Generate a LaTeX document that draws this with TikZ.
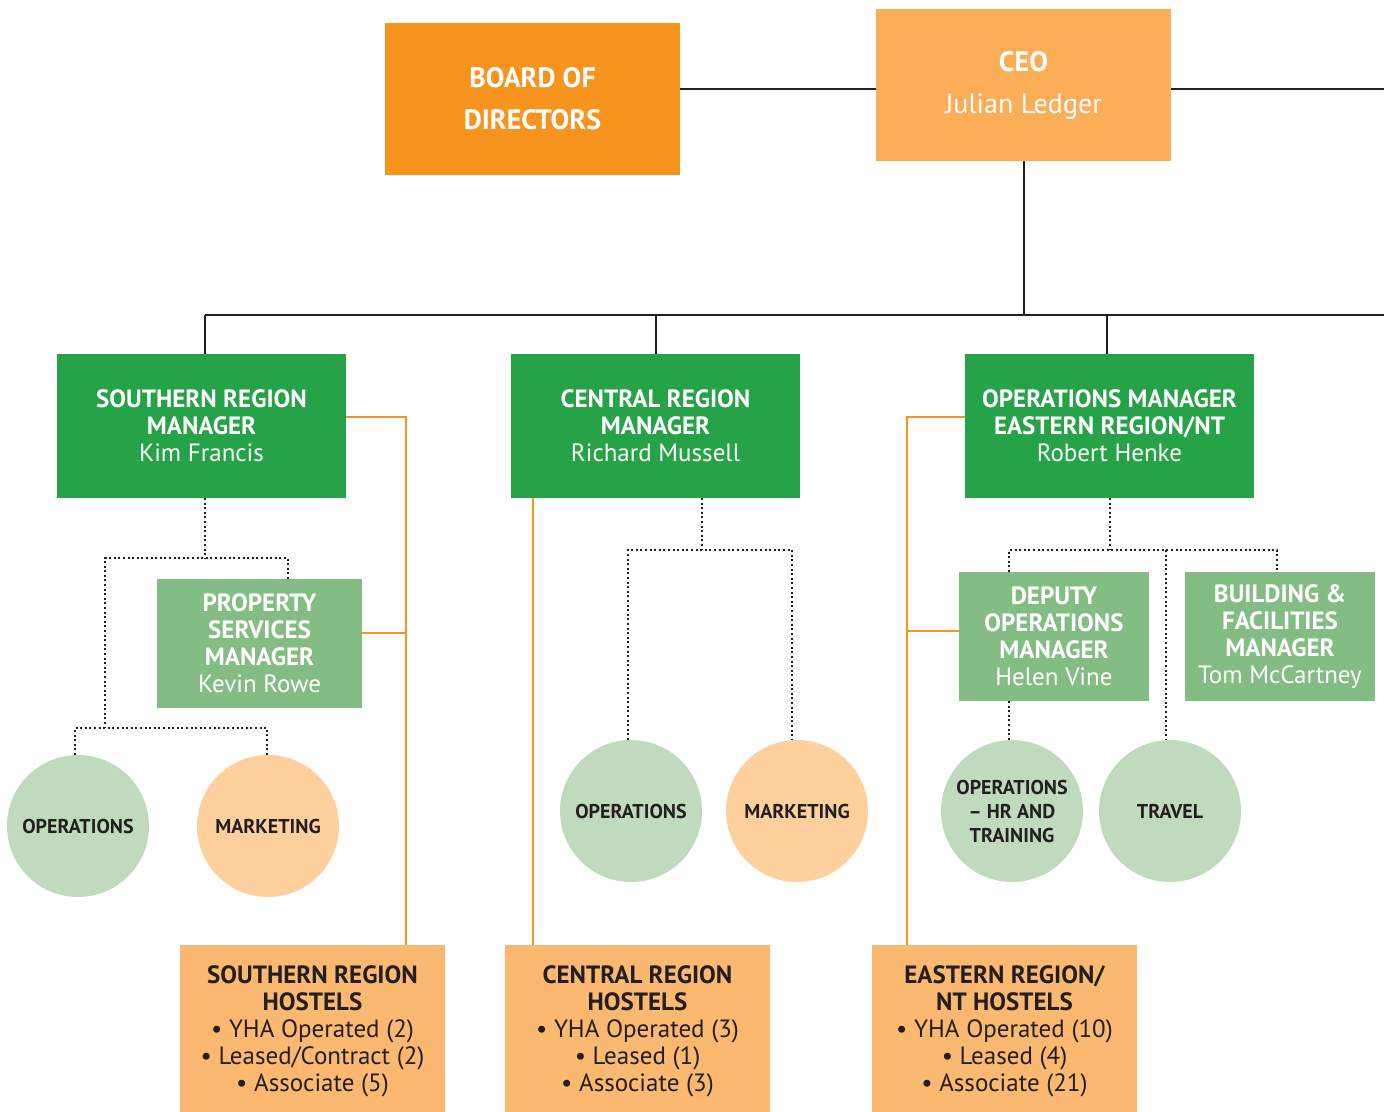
\documentclass[tikz,border=0pt]{standalone}
\usepackage{fontspec}
\setmainfont{PT Sans}
\definecolor{boardC}{HTML}{F7941E}
\definecolor{ceoC}{HTML}{FBAD57}
\definecolor{dgreen}{HTML}{26A348}
\definecolor{lgreen}{HTML}{84BD84}
\definecolor{cgreen}{HTML}{C0DABE}
\definecolor{corange}{HTML}{FDD09E}
\definecolor{hostC}{HTML}{FBB870}
\definecolor{orgL}{HTML}{F7941E}
\definecolor{blk}{HTML}{231F20}
\newcommand\fTop{\fontsize{28}{42}\selectfont}
\newcommand\fBox{\fontsize{25}{27}\selectfont}
\newcommand\fCirc{\fontsize{20}{24}\selectfont}
\begin{document}
\begin{tikzpicture}[x=1pt,y=-1pt,
  base/.style={inner sep=0pt, outer sep=0pt, align=center},
  topbox/.style={base, minimum width=295, minimum height=152, text=white, font=\fTop},
  mgrbox/.style={base, fill=dgreen, minimum width=289, minimum height=144, text=white, font=\fBox},
  subbox/.style={base, fill=lgreen, minimum height=129, text=white, font=\fBox},
  circ/.style={base, circle, minimum size=142, text=blk, font=\fCirc\bfseries},
  hostbox/.style={base, fill=hostC, minimum width=265, minimum height=172, text=blk, font=\fBox},
  solidln/.style={draw=blk, line width=2pt},
  orgln/.style={draw=orgL, line width=2pt},
  dotln/.style={draw=blk, line width=2pt, dash pattern=on 2pt off 2.6pt}
]
\useasboundingbox (0,0) rectangle (1384,1111);

% top
\node[topbox, fill=boardC] (board) at (532.5,99) {\bfseries BOARD OF\\\bfseries DIRECTORS};
\node[topbox, fill=ceoC] (ceo) at (1023.5,85) {\bfseries CEO\\Julian Ledger};

% managers
\node[mgrbox] (south) at (201.5,426) {\bfseries SOUTHERN REGION\\\bfseries MANAGER\\Kim Francis};
\node[mgrbox] (central) at (655.5,426) {\bfseries CENTRAL REGION\\\bfseries MANAGER\\Richard Mussell};
\node[mgrbox] (east) at (1109.5,426) {\bfseries OPERATIONS MANAGER\\\bfseries EASTERN REGION/NT\\Robert Henke};

% sub managers
\node[subbox, minimum width=205] (psm) at (259.5,643.5) {\bfseries PROPERTY\\\bfseries SERVICES\\\bfseries MANAGER\\Kevin Rowe};
\node[subbox, minimum width=190] (dep) at (1054,636.5) {\bfseries DEPUTY\\\bfseries OPERATIONS\\\bfseries MANAGER\\Helen Vine};
\node[subbox, minimum width=190] (bld) at (1280,636.5) {\bfseries BUILDING \&\\\bfseries FACILITIES\\\bfseries MANAGER\\Tom McCartney};

% circles
\node[circ, fill=cgreen] (cS1) at (78,826) {OPERATIONS};
\node[circ, fill=corange] (cS2) at (268,826) {MARKETING};
\node[circ, fill=cgreen] (cC1) at (631,811) {OPERATIONS};
\node[circ, fill=corange] (cC2) at (797,811) {MARKETING};
\node[circ, fill=cgreen] (cE1) at (1012,811) {OPERATIONS\\– HR AND\\TRAINING};
\node[circ, fill=cgreen] (cE2) at (1170,811) {TRAVEL};

% hostels
\node[hostbox] (shost) at (312.5,1031) {\bfseries SOUTHERN REGION\\\bfseries HOSTELS\\• YHA Operated (2)\\• Leased/Contract (2)\\• Associate (5)};
\node[hostbox] (chost) at (637.5,1031) {\bfseries CENTRAL REGION\\\bfseries HOSTELS\\• YHA Operated (3)\\• Leased (1)\\• Associate (3)};
\node[hostbox] (ehost) at (1004.5,1031) {\bfseries EASTERN REGION/\\\bfseries NT HOSTELS\\• YHA Operated (10)\\• Leased (4)\\• Associate (21)};

% solid black lines
\coordinate (topY) at (0,89);
\coordinate (redge) at (1384,89);
\coordinate (bus) at (0,315);
\coordinate (busR) at (1384,315);
\coordinate (sX) at (205,0);
\coordinate (eX) at (1107,0);
\draw[solidln] (board.east |- topY) -- (ceo.west |- topY);
\draw[solidln] (ceo.east |- topY) -- (redge);
\draw[solidln] (ceo.south) -- (ceo.south |- bus);
\draw[solidln] (sX |- bus) -- (busR);
\draw[solidln] (sX |- bus) -- (sX |- south.north);
\draw[solidln] (central.north |- bus) -- (central.north);
\draw[solidln] (eX |- bus) -- (eX |- east.north);

% orange lines
\coordinate (sv) at (406,417);
\coordinate (psmY) at (0,633);
\draw[orgln] (south.east |- sv) -- (sv) -- (sv |- shost.north);
\draw[orgln] (psm.east |- psmY) -- (sv |- psmY);
\coordinate (cv) at (533,0);
\draw[orgln] (cv |- central.south) -- (cv |- chost.north);
\coordinate (ev) at (907,417);
\coordinate (depY) at (0,631);
\draw[orgln] (east.west |- ev) -- (ev) -- (ev |- ehost.north);
\draw[orgln] (dep.west |- depY) -- (ev |- depY);

% dotted lines - southern
\coordinate (sA) at (105,558);
\coordinate (sB) at (288,558);
\coordinate (sC) at (105,728);
\coordinate (s1x) at (75,0);
\coordinate (s2x) at (267,0);
\draw[dotln] (sX |- south.south) -- (sX |- sA);
\draw[dotln] (sB |- psm.north) -- (sB) -- (sA) -- (sC);
\draw[dotln] (s1x |- cS1.north) -- (s1x |- sC) -- (s2x |- sC) -- (s2x |- cS2.north);

% dotted lines - central
\coordinate (cT) at (702,550);
\coordinate (c1x) at (628,0);
\coordinate (c2x) at (792,0);
\draw[dotln] (cT |- central.south) -- (cT);
\draw[dotln] (c1x |- cC1.north) -- (c1x |- cT) -- (c2x |- cT) -- (c2x |- cC2.north);

% dotted lines - eastern
\coordinate (eL) at (1009,550);
\coordinate (eM) at (1166,550);
\coordinate (eR) at (1277,550);
\draw[dotln] (east.south) -- (east.south |- eL);
\draw[dotln] (eL |- dep.north) -- (eL) -- (eR) -- (eR |- bld.north);
\draw[dotln] (eM) -- (eM |- cE2.north);
\draw[dotln] (eL |- dep.south) -- (eL |- cE1.north);
\end{tikzpicture}
\end{document}
